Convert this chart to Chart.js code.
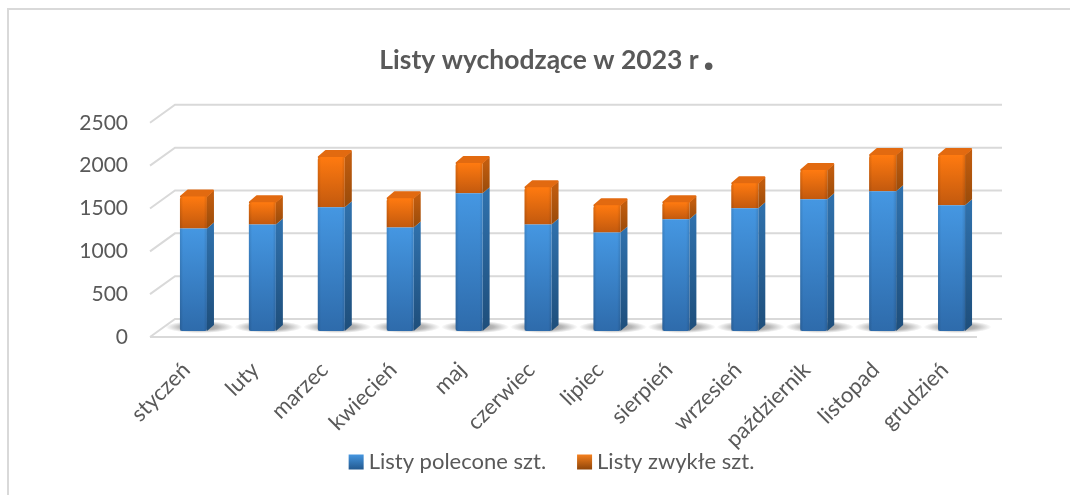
<!DOCTYPE html>
<html lang="pl">
  <head>
    <meta charset="UTF-8" />
    <title>Listy wychodzące w 2023 r.</title>
    <script src="https://cdn.jsdelivr.net/npm/chart.js@4"></script>
    <style>
      body { margin: 0; background: #fff; }
      canvas { display: block; }
    </style>
  </head>
  <body>
    <canvas id="letters-graph" width="1070" height="495"></canvas>

    <script>
    const months = ['styczeń', 'luty', 'marzec', 'kwiecień', 'maj', 'czerwiec', 'lipiec', 'sierpień', 'wrzesień', 'październik', 'listopad', 'grudzień'];
    const registered = [1197, 1244, 1444, 1209, 1608, 1244, 1150, 1303, 1432, 1538, 1631, 1467];
    const ordinary = [373, 258, 586, 340, 352, 434, 317, 199, 293, 340, 423, 587];
    const seriesNames = ['Listy polecone szt.', 'Listy zwykłe szt.'];
    const yTicks = [0, 500, 1000, 1500, 2000, 2500];

    const textColor = '#595959';
    const gridColor = '#d9d9d9';
    const wall = { dx: 25, dy: -18 };     // back wall offset from the front edge of the floor
    const plane = { dx: 9, dy: -6 };      // where the bars stand on the floor
    const depth = { dx: 7, dy: -6 };      // depth of a single bar

    function vGradient(ctx, top, bottom, c1, c2) {
      const g = ctx.createLinearGradient(0, top, 0, bottom);
      g.addColorStop(0, c1);
      g.addColorStop(1, c2);
      return g;
    }

    function frontFill(low, high, c1, c2) {
      return function (c) {
        const y = c.chart.scales.y;
        const i = c.dataIndex;
        if (!y || i === undefined) return c2;
        return vGradient(c.chart.ctx, y.getPixelForValue(high[i]), y.getPixelForValue(low[i]), c1, c2);
      };
    }

    const zeros = months.map(() => 0);
    const totals = months.map((m, i) => registered[i] + ordinary[i]);

    const scene = {
      id: 'scene',
      afterLayout(chart) {
        // title and legend are not centred on the plot
        chart.titleBlock.left = 0;
        chart.titleBlock.right = 1078;
        chart.legend.left = 0;
        chart.legend.right = 1103;
        chart.legend.top = 420;
        // long rotated labels would be clipped at the scale's box
        chart.scales.x.bottom = 495;
      },
      beforeDatasetsDraw(chart) {
        const ctx = chart.ctx;
        const x = chart.scales.x, y = chart.scales.y;
        const left = x.left, right = x.right;

        // page frame
        ctx.save();
        ctx.strokeStyle = gridColor;
        ctx.lineWidth = 2;
        ctx.beginPath();
        ctx.moveTo(8, 495);
        ctx.lineTo(8, 9);
        ctx.lineTo(1070, 9);
        ctx.stroke();

        // walls and floor
        yTicks.forEach(t => {
          const py = y.getPixelForValue(t);
          ctx.beginPath();
          ctx.moveTo(left, py);
          ctx.lineTo(left + wall.dx, py + wall.dy);
          ctx.lineTo(right + wall.dx, py + wall.dy);
          ctx.stroke();
        });
        ctx.beginPath();
        ctx.moveTo(left, y.bottom);
        ctx.lineTo(right, y.bottom);
        ctx.stroke();
        ctx.restore();

        ctx.save();
        ctx.translate(plane.dx, plane.dy);
        const blue = chart.getDatasetMeta(0).data;
        const orange = chart.getDatasetMeta(1).data;

        blue.forEach((bar, i) => {
          const l = bar.x - bar.width / 2, r = bar.x + bar.width / 2;
          // shadow on the floor
          ctx.save();
          ctx.translate(bar.x + 6, bar.base - 4);
          ctx.scale(1, 0.18);
          const s = ctx.createRadialGradient(0, 0, 0, 0, 0, 34);
          s.addColorStop(0, 'rgba(70,70,70,0.6)');
          s.addColorStop(0.55, 'rgba(80,80,80,0.42)');
          s.addColorStop(1, 'rgba(90,90,90,0)');
          ctx.fillStyle = s;
          ctx.beginPath();
          ctx.arc(0, 0, 34, 0, Math.PI * 2);
          ctx.fill();
          ctx.restore();

          // right side of the blue part
          ctx.fillStyle = vGradient(ctx, bar.y, bar.base, '#2f70ab', '#1e4e7b');
          ctx.beginPath();
          ctx.moveTo(r, bar.y);
          ctx.lineTo(r + depth.dx, bar.y + depth.dy);
          ctx.lineTo(r + depth.dx, bar.base + depth.dy);
          ctx.lineTo(r, bar.base);
          ctx.closePath();
          ctx.fill();

          // right side of the orange part
          const o = orange[i];
          ctx.fillStyle = vGradient(ctx, o.y, o.base, '#c05c0e', '#994b0a');
          ctx.beginPath();
          ctx.moveTo(r, o.y);
          ctx.lineTo(r + depth.dx, o.y + depth.dy);
          ctx.lineTo(r + depth.dx, o.base + depth.dy);
          ctx.lineTo(r, o.base);
          ctx.closePath();
          ctx.fill();

          // top
          ctx.fillStyle = '#e26a10';
          ctx.strokeStyle = '#e26a10';
          ctx.lineWidth = 2;
          ctx.lineJoin = 'round';
          ctx.beginPath();
          ctx.moveTo(l + 1, o.y);
          ctx.lineTo(l + depth.dx + 1, o.y + depth.dy);
          ctx.lineTo(r + depth.dx - 1, o.y + depth.dy);
          ctx.lineTo(r - 1, o.y);
          ctx.closePath();
          ctx.fill();
          ctx.stroke();
        });
      },
      afterDatasetsDraw(chart) {
        const ctx = chart.ctx;
        // soft darkening along the front edges
        chart.getDatasetMeta(0).data.forEach((bar, i) => {
          const l = bar.x - bar.width / 2;
          const top = chart.getDatasetMeta(1).data[i].y;
          const g = ctx.createLinearGradient(l, 0, l + bar.width, 0);
          g.addColorStop(0, 'rgba(0,0,0,0.12)');
          g.addColorStop(0.12, 'rgba(0,0,0,0)');
          g.addColorStop(0.88, 'rgba(0,0,0,0)');
          g.addColorStop(1, 'rgba(0,0,0,0.12)');
          ctx.fillStyle = g;
          ctx.fillRect(l, top, bar.width, bar.base - top);
        });
        ctx.restore();
      },
      afterDraw(chart) {
        const ctx = chart.ctx;
        // legend swatches
        const colors = [['#4596e0', '#23598f'], ['#f5801e', '#8f4509']];
        chart.legend.legendHitBoxes.forEach((h, i) => {
          const top = h.top + (h.height - 15) / 2;
          ctx.fillStyle = vGradient(ctx, top, top + 15, colors[i][0], colors[i][1]);
          ctx.fillRect(h.left, top, 15, 15);
        });
        // the title's full stop is a larger run of its own in the original
        const t = chart.options.plugins.title;
        ctx.font = 'bold ' + t.font.size + 'px ' + t.font.family;
        const w = ctx.measureText(t.text).width;
        const cx = (chart.titleBlock.left + chart.titleBlock.right) / 2;
        ctx.font = 'bold 50px ' + t.font.family;
        ctx.textAlign = 'center';
        ctx.textBaseline = 'alphabetic';
        ctx.fillStyle = textColor;
        ctx.fillText('.', cx + w / 2 + 10, 70);
      },
    };

    new Chart(document.getElementById('letters-graph'), {
      type: 'bar',
      plugins: [scene],
      data: {
        labels: months,
        datasets: [{
          label: seriesNames[0],
          data: registered,
          backgroundColor: frontFill(zeros, registered, '#4597e2', '#2e6bab'),
          barPercentage: 0.392,
          categoryPercentage: 1,
          borderSkipped: false,
          borderRadius: { bottomLeft: 2, bottomRight: 2 },
        }, {
          label: seriesNames[1],
          data: ordinary,
          backgroundColor: frontFill(registered, totals, '#ff7a10', '#c2590e'),
          barPercentage: 0.392,
          categoryPercentage: 1,
          borderRadius: { topLeft: 3 },
        }],
      },
      options: {
        responsive: false,
        animation: false,
        layout: { padding: { left: 28, right: 93, top: 0, bottom: 0 } },
        plugins: {
          title: {
            display: true,
            text: 'Listy wychodzące w 2023 r',
            color: textColor,
            font: { family: 'Lato', size: 26.5, weight: 'bold' },
            padding: { top: 45, bottom: 46 },
          },
          legend: {
            display: true,
            position: 'bottom',
            labels: {
              color: textColor,
              font: { family: 'Lato', size: 22 },
              boxWidth: 9,
              boxHeight: 10,
              padding: 31,
              generateLabels: () => seriesNames.map((name, i) => ({
                text: name,
                fontColor: textColor,
                fillStyle: 'rgba(0,0,0,0)',
                strokeStyle: 'rgba(0,0,0,0)',
                lineWidth: 0,
                datasetIndex: i,
              })),
            },
          },
          tooltip: { enabled: false },
        },
        scales: {
          x: {
            stacked: true,
            grid: { display: false },
            border: { display: false },
            afterFit: scale => { scale.height = 95; },
            ticks: {
              color: textColor,
              font: { family: 'Lato', size: 22 },
              minRotation: 45,
              maxRotation: 45,
              autoSkip: false,
              padding: 12,
              labelOffset: 2,
            },
          },
          y: {
            stacked: true,
            min: 0,
            max: 2500,
            grid: { display: false },
            border: { display: false },
            afterFit: scale => { scale.width = 122; },
            ticks: {
              color: textColor,
              font: { family: 'Lato', size: 21 },
              stepSize: 500,
              padding: 14,
              callback: v => String(v),
            },
          },
        },
      },
    });
    </script>
  </body>
</html>
